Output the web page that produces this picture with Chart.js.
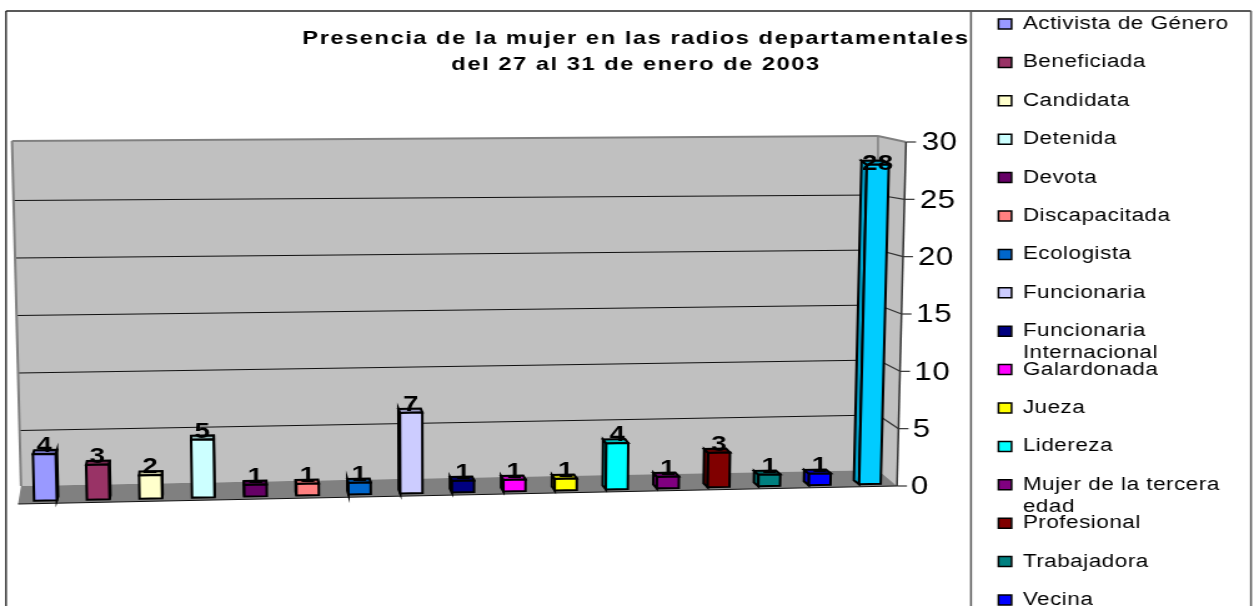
<!DOCTYPE html>
<html lang="es">
<head>
    <meta charset="UTF-8">
    <title>Presencia de la mujer en las radios departamentales</title>
    <script src="https://cdn.jsdelivr.net/npm/chart.js"></script>
    <style>
        html, body {
            margin: 0;
            padding: 0;
            width: 1259px;
            height: 606px;
            overflow: hidden;
            background: #fff;
        }
        /* the original is a stretched picture, so the whole canvas gets stretched too */
        #chart {
            display: block;
            transform: scaleX(1.249);
            transform-origin: 0 0;
        }
    </style>
</head>
<body>
<canvas id="chart" width="1008" height="720"></canvas>

<script>
    const titleLines = ['Presencia de la mujer en las radios departamentales', 'del 27 al 31 de enero de 2003'];
    // the 17th legend row falls below the picture, its name can't be read
    const categories = ['Activista de Género', 'Beneficiada', 'Candidata', 'Detenida', 'Devota', 'Discapacitada', 'Ecologista', 'Funcionaria', 'Funcionaria', 'Galardonada', 'Jueza', 'Lidereza', 'Mujer de la tercera', 'Profesional', 'Trabajadora', 'Vecina', ''];
    const secondLines = ['', '', '', '', '', '', '', '', 'Internacional', '', '', '', 'edad', '', '', '', ''];
    const values = [4, 3, 2, 5, 1, 1, 1, 7, 1, 1, 1, 4, 1, 3, 1, 1, 28];
    const barColors = ['#9999FF', '#993366', '#FFFFCC', '#CCFFFF', '#660066', '#FF8080', '#0066CC', '#CCCCFF', '#000080', '#FF00FF', '#FFFF00', '#00FFFF', '#800080', '#800000', '#008080', '#0000FF', '#00CCFF'];
    const axisMax = 30;
    const axisStep = 5;

    const W = 1008, H = 720, SX = 1259 / W;
    const PLOT_LEFT = 18, PLOT_RIGHT = 897, PLOT_BOTTOM = 486; // page pixels

    const lerp = (a, b, t) => a + (b - a) * t;
    const mix = (p, q, t) => [lerp(p[0], q[0], t), lerp(p[1], q[1], t)];

    function poly(ctx, pts, fill, stroke, lw) {
        ctx.beginPath();
        pts.forEach((p, i) => i ? ctx.lineTo(p[0] / SX, p[1]) : ctx.moveTo(p[0] / SX, p[1]));
        ctx.closePath();
        if (fill) { ctx.fillStyle = fill; ctx.fill(); }
        if (stroke) { ctx.strokeStyle = stroke; ctx.lineWidth = lw || 1; ctx.stroke(); }
    }

    function line(ctx, p, q, color, lw) {
        ctx.beginPath();
        ctx.moveTo(p[0] / SX, p[1]);
        ctx.lineTo(q[0] / SX, q[1]);
        ctx.strokeStyle = color;
        ctx.lineWidth = lw;
        ctx.stroke();
    }

    function shade(hex, f) {
        const n = parseInt(hex.slice(1), 16);
        const c = [n >> 16, (n >> 8) & 255, n & 255].map(v => Math.round(v * f));
        return `rgb(${c[0]},${c[1]},${c[2]})`;
    }

    // front plane of the tilted box: maps a scale pixel to a page pixel
    function project(chart, px, py) {
        const a = chart.chartArea;
        const u = (px - a.left) / (a.right - a.left);
        const v = (a.bottom - py) / (a.bottom - a.top);
        const bottom = mix([19, 501], [897, 483.5], u);
        const top = mix([10, 153], [906, 141.5], u);
        const p = mix(bottom, top, v);
        // perspective bunches the middle bars a little to the right
        p[0] += 24 * u * (1 - u) - 2 * u;
        return p;
    }

    const box3d = {
        id: 'box3d',
        afterLayout(chart) {
            const { legend, titleBlock, ctx } = chart;
            const yScale = chart.scales.y;

            // legend column starts right of the vertical rule, first row near the top
            legend.left = 779;
            legend.right = W;
            legend.top = -5.4;

            titleBlock.left -= 2;
            titleBlock.right -= 2;
            const drawTitle = titleBlock.draw;
            titleBlock.draw = function (area) {
                ctx.save();
                ctx.letterSpacing = '1.2px';
                drawTitle.call(this, area);
                ctx.restore();
            };

            // tick labels follow the leaning axis
            yScale.getLabelItems(chart.chartArea).forEach((item, i) => {
                item.options.translation[0] += (yScale.ticks[i].value / axisMax) * 11 / SX;
                item.options.translation[1] += 1.5;
            });
        },
        beforeDraw(chart) {
            const ctx = chart.ctx;
            ctx.letterSpacing = '0.4px';

            // outer frame and legend rule, they run off the bottom of the page
            line(ctx, [6, 606], [6, 11], '#333', 1.5);
            line(ctx, [6, 11], [1251, 11], '#222', 1.5);
            line(ctx, [971, 11], [971, 606], '#555', 1.5);
            line(ctx, [1251, 11], [1251, 606], '#555', 1.5);
        },
        beforeDatasetsDraw(chart) {
            const ctx = chart.ctx;
            const y = chart.scales.y;
            const a = chart.chartArea;
            const backTL = [12, 141], backTR = [878, 136], backBR = [878, 470], backBL = [21, 486];
            const axisT = [906, 142], axisB = [897, 486];
            const frontL = [18, 504];

            poly(ctx, [backTL, backTR, backBR, backBL], '#C0C0C0');
            poly(ctx, [backTR, axisT, axisB, backBR], '#C0C0C0');
            poly(ctx, [backBL, backBR, axisB, frontL], '#808080');

            y.ticks.forEach(t => {
                const v = (a.bottom - y.getPixelForValue(t.value)) / (a.bottom - a.top);
                const l = mix([21, 488], [12, 143], v), r = mix(backBR, [878, 140], v), e = mix(axisB, axisT, v);
                if (t.value > 0 && t.value < axisMax) {
                    line(ctx, l, r, '#111', 1.2);
                    line(ctx, r, e, '#333', 1.2);
                }
                line(ctx, e, [e[0] + 10, e[1]], '#333', 1.2);
            });

            line(ctx, backTL, backTR, '#808080', 2);
            line(ctx, backTR, axisT, '#808080', 2);
            line(ctx, backTL, backBL, '#808080', 2);
            line(ctx, backTR, backBR, '#808080', 1.5);
            line(ctx, frontL, axisB, '#111', 1.2);
            line(ctx, axisT, axisB, '#333', 1.5);
        },
        beforeDatasetDraw(chart, args) {
            const ctx = chart.ctx;
            const area = chart.chartArea;
            chart.getDatasetMeta(args.index).data.forEach((bar, i) => {
                const half = bar.width / 2;
                const tl = project(chart, bar.x - half, bar.y), tr = project(chart, bar.x + half, bar.y);
                const bl = project(chart, bar.x - half, bar.base), br = project(chart, bar.x + half, bar.base);
                const u = (bar.x - area.left) / (area.right - area.left);
                const dx = lerp(1.5, -5.5, u), dy = -4;
                const back = p => [p[0] + dx, p[1] + dy];
                const color = barColors[i];

                if (dx < 0) poly(ctx, [tl, back(tl), back(bl), bl], shade(color, 0.8), '#000', 2);
                else poly(ctx, [tr, back(tr), back(br), br], shade(color, 0.8), '#000', 2);
                poly(ctx, [tl, tr, back(tr), back(tl)], shade(color, 0.75), '#000', 2);
                poly(ctx, [tl, tr, br, bl], color, '#000', 2);
            });
            return false; // faces are done, skip the flat bars
        },
        afterDatasetsDraw(chart) {
            const ctx = chart.ctx;
            ctx.save();
            ctx.font = 'bold 22px "Liberation Sans"';
            ctx.fillStyle = '#000';
            ctx.textAlign = 'center';
            ctx.textBaseline = 'middle';
            chart.getDatasetMeta(0).data.forEach((bar, i) => {
                const p = project(chart, bar.x, bar.y);
                ctx.fillText(values[i], p[0] / SX, Math.max(p[1] - 8, 164));
            });
            ctx.restore();
        },
        afterDraw(chart) {
            // wrapped legend labels, second line overlaps the next row like in the original
            const ctx = chart.ctx;
            const { legend } = chart;
            const lab = legend.options.labels;
            ctx.save();
            ctx.font = '18px "Liberation Sans"';
            ctx.fillStyle = '#000';
            ctx.textBaseline = 'middle';
            secondLines.forEach((text, i) => {
                if (!text) return;
                const rowY = legend.top + lab.padding + i * (18 + lab.padding) + 9;
                ctx.fillText(text, legend.left + lab.padding + lab.boxWidth + 9, rowY + 22);
            });
            ctx.restore();
        }
    };

    Chart.defaults.font.family = '"Liberation Sans", Arial, sans-serif';
    Chart.defaults.color = '#000';

    new Chart(document.getElementById('chart'), {
        type: 'bar',
        data: {
            labels: categories,
            datasets: [{
                data: values,
                backgroundColor: barColors,
                clip: false,
                barPercentage: 0.43,
                categoryPercentage: 1
            }]
        },
        options: {
            responsive: false,
            animation: false,
            layout: { padding: { left: PLOT_LEFT / SX } },
            plugins: {
                title: {
                    display: true,
                    text: titleLines,
                    font: { size: 19, weight: 'bold', lineHeight: 26 / 19 },
                    padding: { top: 26, bottom: 64 }
                },
                legend: {
                    position: 'right',
                    align: 'start',
                    labels: {
                        font: { size: 18 },
                        boxWidth: 10.5,
                        boxHeight: 10,
                        padding: 20.4,
                        generateLabels: () => categories.map((text, i) => ({
                            text,
                            fillStyle: barColors[i],
                            strokeStyle: '#000',
                            lineWidth: 1.5,
                            hidden: false,
                            index: i
                        }))
                    }
                },
                tooltip: { enabled: false }
            },
            scales: {
                x: {
                    grid: { display: false },
                    border: { display: false },
                    ticks: { display: false },
                    afterFit(s) { s.height = H - PLOT_BOTTOM; }
                },
                y: {
                    position: 'right',
                    min: 0,
                    max: axisMax,
                    grid: { display: false, drawTicks: false },
                    border: { display: false },
                    ticks: { stepSize: axisStep, padding: 11, font: { size: 25 }, color: '#000' },
                    afterFit(s) { s.width = W - PLOT_RIGHT / SX - s.chart.legend.width; }
                }
            }
        },
        plugins: [box3d]
    });
</script>
</body>
</html>
